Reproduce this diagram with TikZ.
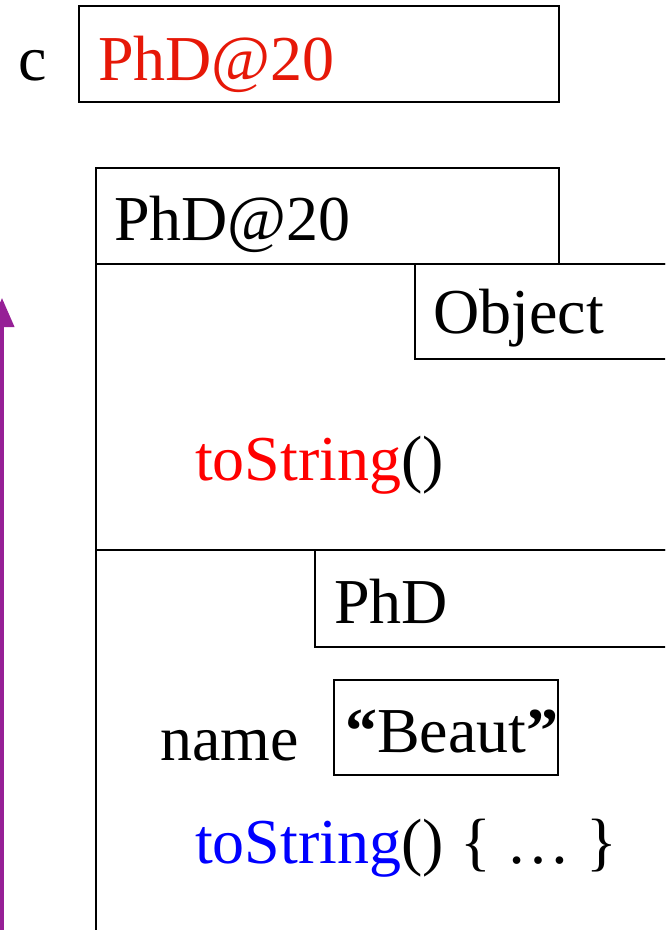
\documentclass[tikz,border=0pt]{standalone}
\usepackage{fontspec}
\setmainfont{Liberation Serif}
\usepackage{tikz}
\usetikzlibrary{arrows.meta}
\definecolor{mypurple}{RGB}{150,32,150}
\definecolor{mydarkred}{RGB}{230,24,8}
\definecolor{myred}{RGB}{255,0,0}
\definecolor{myblue}{RGB}{0,0,255}
\newcommand{\widthframe}{2pt}
\newcommand{\heightbox}{96pt}
\tikzset{
    common/.style={inner sep=0pt, font=\fontsize{64}{72}\selectfont},
    word/.style={common, anchor=base west},
    frame/.style={common, draw, line width=\widthframe, anchor=north west, minimum height=\heightbox},
    pointer/.style={-{Triangle[length=29pt, width=24pt]}, line width=4pt, mypurple}
}
\begin{document}
\begin{tikzpicture}[x=1pt, y=-1pt]
        \useasboundingbox (0,0) rectangle (665,930);
        \clip (0,0) rectangle (665,930);

        % the variable
        \node[word] (var-c) at (18,80) {c};
        \node[frame, minimum width=480pt] (ref-box) at (78,5) {};
        \node[word, mydarkred] (ref-val) at (98,80) {PhD@20};

        % the object
        \node[frame, minimum width=700pt, minimum height=800pt] (obj) at (95,263) {};
        \node[frame, minimum width=463pt] (obj-head) at (95,167) {};
        \node[word] (obj-name) at (114,240) {PhD@20};

        \node[frame, minimum width=300pt, minimum height=95pt] (part-object) at (414,263) {};
        \node[word] (part-object-name) at (433,333) {Object};
        \node[word] (object-method) at (195,480) {\color{myred}toString\color{black}()};

        \node[frame, minimum width=700pt, minimum height=600pt] (part-phd) at (95,549) {};
        \node[frame, minimum width=400pt, minimum height=97pt] (part-phd-head) at (314,549) {};
        \node[word] (part-phd-name) at (334,623) {PhD};
        \node[word] (field-name) at (160,760) {name};
        \node[frame, minimum width=224pt, minimum height=95pt] (field-val-box) at (333,679) {};
        \node[word] (field-val) at (345,752) {\textbf{“}Beaut\textbf{”}};
        \node[word] (phd-method) at (195,863) {\color{myblue}toString\color{black}() \{ … \}};

        \coordinate (arrow-foot) at (2,940);
        \coordinate (arrow-tip) at (2,298);
        \draw[pointer] (arrow-foot) -- (arrow-tip);

    \end{tikzpicture}
\end{document}
